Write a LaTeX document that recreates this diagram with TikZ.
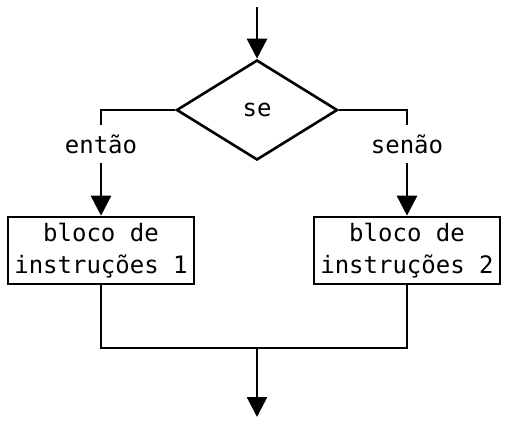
\documentclass[tikz,border=0pt]{standalone}
\usepackage{fontspec}
\setmonofont{DejaVu Sans Mono}
\usetikzlibrary{shapes.geometric,arrows.meta}
\tikzset{
  decisao/.style={diamond,draw,line width=1.3pt,minimum width=80.5pt,minimum height=50pt,inner sep=0pt},
  bloco/.style={rectangle,draw,line width=1.3pt,minimum width=93pt,minimum height=33.5pt,inner sep=0pt,align=center},
  rotulo/.style={inner sep=0pt,minimum height=18pt},
  seta/.style={-{Triangle[length=10pt,width=10pt]}}
}
\begin{document}
\begin{tikzpicture}[x=0.5pt,y=-0.5pt,line width=1.3pt,font=\ttfamily\fontsize{12pt}{16pt}\selectfont]
  \useasboundingbox (0,0) rectangle (508,423);
  \coordinate (entrada) at (257,7);
  \node[decisao] (se) at (257,110) {se};
  \node[rotulo] (entao) at (101,144) {então};
  \node[rotulo] (senao) at (407,144) {senão};
  \node[bloco] (bloco1) at (101,250.5) {bloco de\\instruções 1};
  \node[bloco] (bloco2) at (407,250.5) {bloco de\\instruções 2};
  \coordinate (juncao) at (257,348);
  \coordinate (saida) at (257,417);

  \draw[seta] (entrada) -- (se.north);
  \draw (se.west) -| (entao.north);
  \draw (se.east) -| (senao.north);
  \draw[seta] (entao.south) -- (bloco1.north);
  \draw[seta] (senao.south) -- (bloco2.north);
  \draw (bloco1.south) |- (juncao) -| (bloco2.south);
  \draw[seta] (juncao) -- (saida);
\end{tikzpicture}
\end{document}
